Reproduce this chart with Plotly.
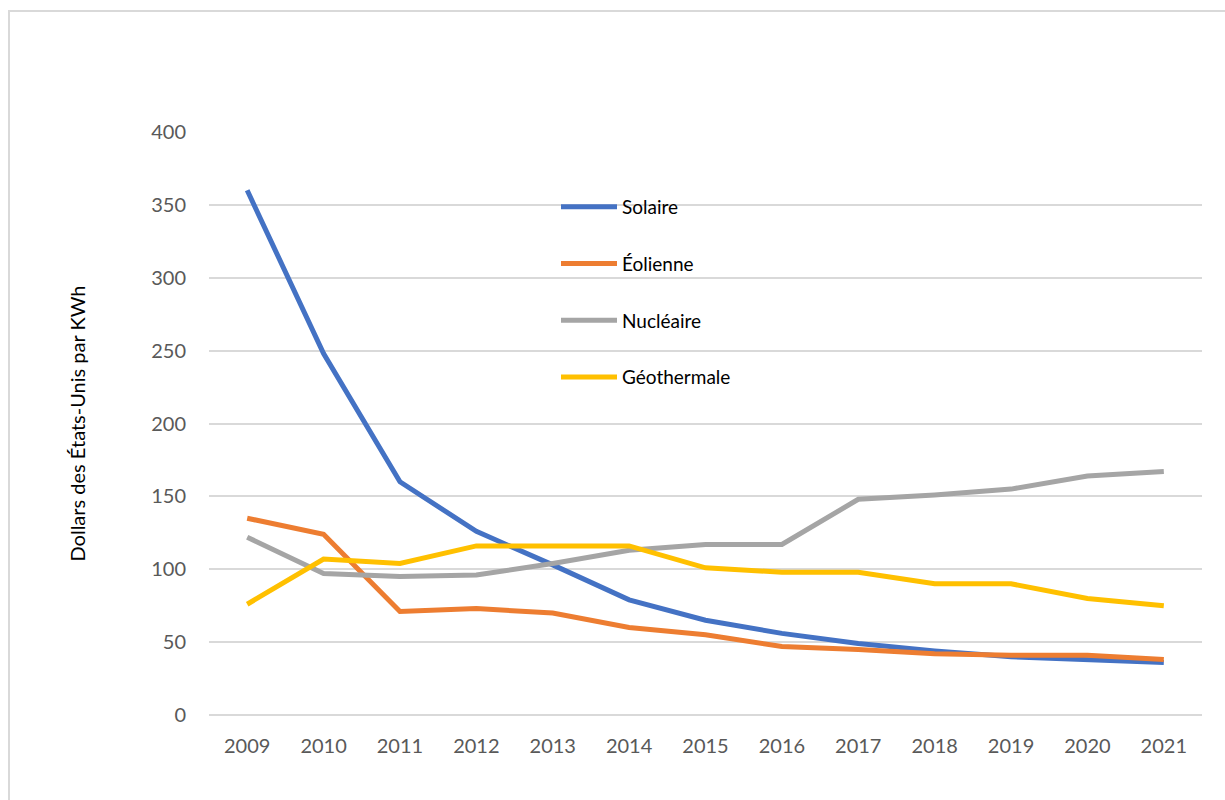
import plotly.graph_objects as go

# Coût de production de l'électricité, dollars des États-Unis par KWh
years = [2009, 2010, 2011, 2012, 2013, 2014, 2015, 2016, 2017, 2018, 2019, 2020, 2021]
solaire = [360, 248, 160, 126, 103, 79, 65, 56, 49, 44, 40, 38, 36]
eolienne = [135, 124, 71, 73, 70, 60, 55, 47, 45, 42, 41, 41, 38]
nucleaire = [122, 97, 95, 96, 104, 113, 117, 117, 148, 151, 155, 164, 167]
geothermale = [76, 107, 104, 116, 116, 116, 101, 98, 98, 90, 90, 80, 75]

series_names = ["Solaire", "Éolienne", "Nucléaire", "Géothermale"]
series_values = [solaire, eolienne, nucleaire, geothermale]
series_colors = ["#4472C4", "#ED7D31", "#A5A5A5", "#FFC000"]

y_ticks = [0, 50, 100, 150, 200, 250, 300, 350, 400]

FONT = "Lato, 'Noto Sans', sans-serif"

fig = go.Figure()
for name, vals, color in zip(series_names, series_values, series_colors):
    fig.add_trace(go.Scatter(
        x=years, y=vals, name=name, mode="lines",
        line=dict(color=color, width=5),
        legendgroup=name,
    ))

W, H = 1225, 800
ml, mr, mt, mb = 209, 23, 132, 85
pw, ph = W - ml - mr, H - mt - mb

fig.update_layout(
    width=W, height=H,
    margin=dict(l=ml, r=mr, t=mt, b=mb, pad=0),
    paper_bgcolor="white", plot_bgcolor="white",
    font=dict(family=FONT, size=20, color="#595959"),
    showlegend=True,
    legend=dict(
        x=(556 - ml) / pw, y=(715 - 188) / ph,
        xanchor="left", yanchor="top",
        bgcolor="rgba(0,0,0,0)",
        font=dict(family=FONT, size=19, color="#000000"),
        itemwidth=56,
        tracegroupgap=29,
    ),
    xaxis=dict(
        range=[2008.5, 2021.5],
        tickvals=years, ticktext=[str(y) for y in years],
        showgrid=False, zeroline=False, showline=False,
        ticks="", ticklabelstandoff=17,
        tickfont=dict(family=FONT, size=20, color="#595959"),
    ),
    yaxis=dict(
        range=[0, 400],
        tickvals=y_ticks,
        showgrid=True, gridcolor="#D9D9D9", gridwidth=1.5,
        zeroline=True, zerolinecolor="#D9D9D9", zerolinewidth=1.5,
        showline=False, ticks="", ticklabelstandoff=22,
        tickfont=dict(family=FONT, size=20, color="#595959"),
        title=dict(
            text="Dollars des États-Unis par KWh",
            font=dict(family=FONT, size=20, color="#000000"),
            standoff=60,
        ),
    ),
)

# Chart area border
fig.add_shape(
    type="rect", xref="paper", yref="paper",
    x0=(9 - ml) / pw, x1=(1232 - ml) / pw,
    y0=(715 - 810) / ph, y1=(715 - 11) / ph,
    line=dict(color="#D9D9D9", width=2), fillcolor="rgba(0,0,0,0)",
    layer="below",
)

fig.write_html("out.html")
